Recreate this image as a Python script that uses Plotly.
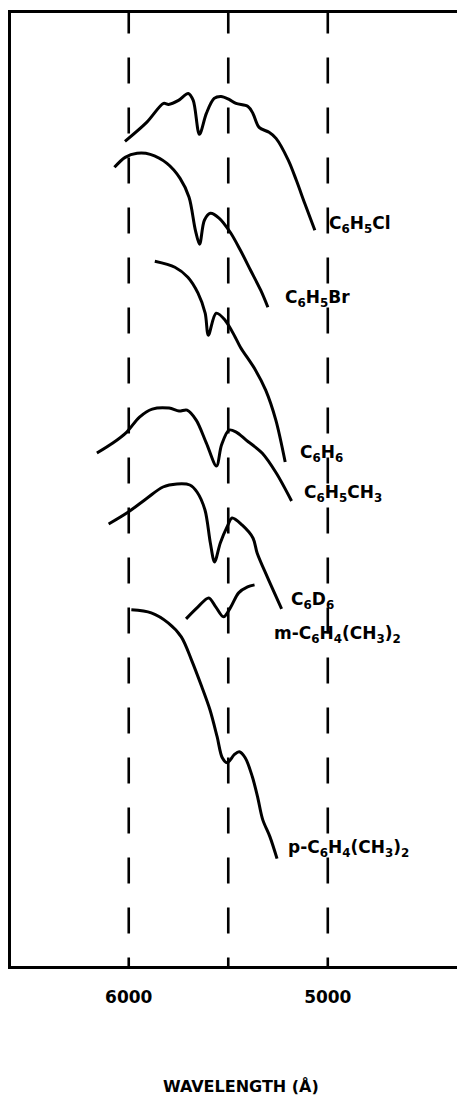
import plotly.graph_objects as go

# Wavelength (Angstrom) and relative absorption (arbitrary, offset)
c6h5cl_wl = [6019, 5910, 5825, 5800, 5750, 5701, 5676, 5645, 5610, 5571, 5536, 5496, 5461, 5401, 5376, 5345, 5295, 5260, 5198, 5158, 5116, 5065]
c6h5cl_ab = [82.7, 84.6, 86.5, 86.4, 86.8, 87.5, 86.8, 83.4, 85.5, 87.0, 87.2, 86.9, 86.5, 86.2, 85.5, 84.1, 83.6, 83.0, 80.8, 78.8, 76.5, 73.8]

c6h5br_wl = [6072, 6018, 5958, 5892, 5808, 5742, 5697, 5665, 5644, 5620, 5590, 5545, 5490, 5439, 5388, 5337, 5301]
c6h5br_ab = [80.1, 81.1, 81.5, 81.4, 80.5, 79.0, 77.1, 73.8, 72.4, 74.8, 75.5, 75.0, 73.6, 71.8, 69.8, 67.8, 66.1]

c6h6_wl = [5869, 5768, 5703, 5652, 5616, 5600, 5561, 5516, 5465, 5439, 5363, 5312, 5261, 5214]
c6h6_ab = [70.7, 70.1, 69.1, 67.5, 65.5, 63.3, 65.5, 64.8, 63.1, 62.1, 59.8, 57.8, 54.8, 50.6]

c6h5ch3_wl = [6160, 6080, 6010, 5946, 5882, 5797, 5747, 5707, 5661, 5610, 5559, 5534, 5496, 5460, 5410, 5330, 5259, 5182]
c6h5ch3_ab = [51.5, 52.5, 53.6, 55.1, 55.9, 56.0, 55.7, 55.8, 54.8, 52.5, 50.2, 52.3, 53.8, 53.6, 52.8, 51.5, 49.5, 46.7]

c6d6_wl = [6101, 6002, 5907, 5828, 5758, 5693, 5657, 5617, 5590, 5569, 5540, 5506, 5481, 5431, 5376, 5355, 5304, 5232]
c6d6_ab = [44.4, 45.6, 47.0, 48.1, 48.4, 48.3, 47.6, 45.8, 42.5, 40.6, 42.5, 44.1, 45.0, 44.3, 43.0, 41.5, 39.1, 35.9]

m_xylene_wl = [5712, 5652, 5598, 5563, 5524, 5487, 5448, 5403, 5368]
m_xylene_ab = [34.9, 36.1, 37.0, 36.1, 35.1, 36.1, 37.5, 38.1, 38.3]

p_xylene_wl = [5987, 5887, 5802, 5736, 5685, 5633, 5592, 5556, 5530, 5505, 5470, 5445, 5415, 5379, 5353, 5327, 5291, 5255]
p_xylene_ab = [35.8, 35.5, 34.5, 33.1, 30.8, 28.1, 25.8, 23.1, 21.0, 20.5, 21.3, 21.6, 21.0, 19.1, 17.1, 14.8, 13.1, 10.9]

series_names = ["C6H5Cl", "C6H5Br", "C6H6", "C6H5CH3", "C6D6", "m-C6H4(CH3)2", "p-C6H4(CH3)2"]
series_labels = [
    "C<sub>6</sub>H<sub>5</sub>Cl",
    "C<sub>6</sub>H<sub>5</sub>Br",
    "C<sub>6</sub>H<sub>6</sub>",
    "C<sub>6</sub>H<sub>5</sub>CH<sub>3</sub>",
    "C<sub>6</sub>D<sub>6</sub>",
    "m-C<sub>6</sub>H<sub>4</sub>(CH<sub>3</sub>)<sub>2</sub>",
    "p-C<sub>6</sub>H<sub>4</sub>(CH<sub>3</sub>)<sub>2</sub>",
]
series_data = [
    (c6h5cl_wl, c6h5cl_ab),
    (c6h5br_wl, c6h5br_ab),
    (c6h6_wl, c6h6_ab),
    (c6h5ch3_wl, c6h5ch3_ab),
    (c6d6_wl, c6d6_ab),
    (m_xylene_wl, m_xylene_ab),
    (p_xylene_wl, p_xylene_ab),
]

grid_wavelengths = [6000, 5500, 5000]
tick_values = [6000, 5500, 5000]
tick_texts = ["6000", "", "5000"]
x_title = "WAVELENGTH (Å)"

# label anchor positions (paper coordinates)
label_pos = [
    (0.703, 0.778),
    (0.606, 0.700),
    (0.639, 0.538),
    (0.648, 0.496),
    (0.619, 0.384),
    (0.581, 0.348),
    (0.612, 0.123),
]

FONT = "DejaVu Sans"
fig = go.Figure()

Y_BOT, Y_TOP = 0.15, 95.55
for (wl, ab), name in zip(series_data, series_names):
    fig.add_trace(go.Scatter(
        x=wl, y=ab, mode="lines", name=name,
        line=dict(color="black", width=3, shape="spline", smoothing=0.9),
        showlegend=False, hoverinfo="skip",
    ))

for g in grid_wavelengths:
    fig.add_shape(type="line", xref="x", yref="y", x0=g, x1=g, y0=Y_TOP + 0.55, y1=Y_BOT,
                  line=dict(color="black", width=2.6, dash="26px,24px"), layer="below")

for text, (px, py) in zip(series_labels, label_pos):
    fig.add_annotation(text="<b>" + text + "</b>", xref="paper", yref="paper", x=px, y=py,
                       xanchor="left", yanchor="middle", showarrow=False,
                       font=dict(family=FONT, size=17, color="black"))

fig.add_annotation(text="<b>" + x_title + "</b>", xref="paper", yref="paper",
                   x=0.513, y=-0.1263, xanchor="center", yanchor="middle", showarrow=False,
                   font=dict(family=FONT, size=16, color="black"))

fig.update_layout(
    width=457, height=1089,
    margin=dict(l=2.5, r=4.5, t=4.5, b=130.5),
    paper_bgcolor="white", plot_bgcolor="white",
    font=dict(family=FONT, color="black"),
)
fig.update_xaxes(range=[6591.5, 4335.8], tickvals=tick_values, ticktext=tick_texts,
                 ticks="", showgrid=False, zeroline=False,
                 showline=True, mirror=True, linecolor="black", linewidth=3,
                 tickfont=dict(family=FONT, size=17, color="black", weight="bold"),
                 ticklabelstandoff=14)
fig.update_yaxes(range=[Y_BOT, Y_TOP], showticklabels=False, ticks="", showgrid=False,
                 zeroline=False, showline=True, mirror=True, linecolor="black", linewidth=3)

fig.write_html("out.html")
